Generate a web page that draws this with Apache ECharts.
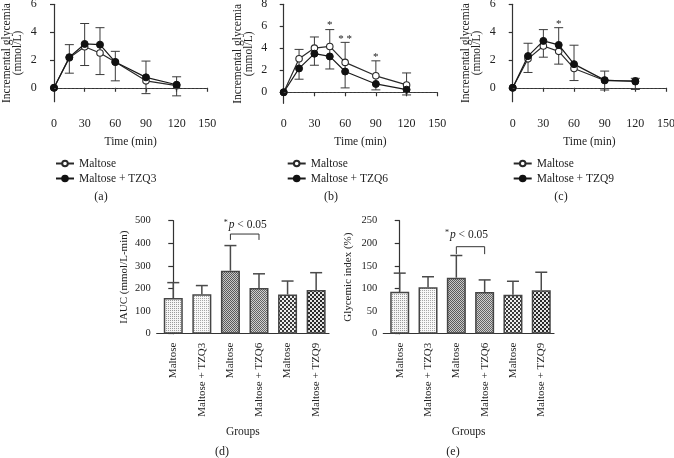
<!DOCTYPE html>
<html><head><meta charset="utf-8">
<script src="https://cdn.jsdelivr.net/npm/echarts@6/dist/echarts.min.js"></script>
<style>html,body{margin:0;padding:0;background:#fff}#c{width:674px;height:458px}</style>
</head><body><div id="c"></div>
<script>
// ---------- data ----------
const timePoints = [0, 15, 30, 45, 60, 90, 120];

const maltoseA = [0, 2.15, 2.95, 2.5, 1.85, 0.5, 0.15];
const tzq3     = [0, 2.2, 3.15, 3.1, 1.85, 0.75, 0.22];
const errLowA  = [null, 1.05, 1.6, 0.95, 0.5, -0.42, -0.58];
const errHighA = [null, 3.1, 4.62, 4.32, 2.62, 1.92, 0.79];

const maltoseB = [0, 3.05, 4.02, 4.17, 2.72, 1.5, 0.67];
const tzq6     = [0, 2.17, 3.51, 3.26, 1.89, 0.76, 0.24];
const errLowB  = [null, 1.19, 2.46, 2.12, 0.4, 0.22, -0.24];
const errHighB = [null, 3.9, 5.03, 5.7, 4.54, 2.86, 1.76];
const starTimesB  = [45, 60, 90];
const starValuesB = [6.1, 4.8, 3.2];
const starTextB   = ['*', '* *', '*'];

const maltoseC = [0, 2.08, 3.0, 2.62, 1.39, 0.52, 0.5];
const tzq9     = [0, 2.28, 3.37, 3.08, 1.7, 0.55, 0.45];
const errLowC  = [null, 1.1, 2.2, 1.7, 0.52, -0.16, -0.12];
const errHighC = [null, 3.2, 4.18, 4.32, 3.06, 1.2, 0.68];
const starTimesC  = [45];
const starValuesC = [4.6];
const starTextC   = ['*'];

const yTicksA = [0, 2, 4, 6];
const yTicksB = [0, 2, 4, 6, 8];
const yTicksC = [0, 2, 4, 6];

const groups = ['Maltose', 'Maltose + TZQ3', 'Maltose', 'Maltose + TZQ6', 'Maltose', 'Maltose + TZQ9'];
const groupIdx = [0, 1, 2, 3, 4, 5];
const iauc       = [158, 175, 279, 202, 173, 193];
const iaucErrTop = [226, 213, 390, 265, 233, 270];
const gi         = [93, 103, 124, 92, 86, 96];
const giErrTop   = [134, 126, 173, 119, 116, 136];

const bracketX  = [2, 2, 3, 3];
const bracketYD = [415, 441, 441, 415];
const bracketYE = [176, 192.5, 192.5, 176];
const pLabelD = [2.52, 481];
const pLabelE = [2.36, 218];

// ---------- styles ----------
const FF = 'Liberation Serif';
const TXT = '#222';
const AX = '#333';

function makePattern(size, bg, fg, cells) {
  const c = document.createElement('canvas');
  c.width = c.height = size;
  const g = c.getContext('2d');
  g.fillStyle = bg; g.fillRect(0, 0, size, size);
  g.fillStyle = fg;
  cells.forEach(([x, y, w, h]) => g.fillRect(x, y, w || 1, h || 1));
  return { image: c, repeat: 'repeat' };
}
const patterns = [
  makePattern(2, '#f4f4f4', '#9a9a9a', [[0, 0]]),
  makePattern(2, '#f8f8f8', '#a8a8a8', [[0, 0]]),
  makePattern(2, '#c8c8c8', '#5a5a5a', [[0, 0], [1, 1]]),
  makePattern(2, '#d0d0d0', '#646464', [[0, 0], [1, 1]]),
  makePattern(4, '#eeeeee', '#3a3a3a', [[0, 0, 2, 2], [2, 2, 2, 2]]),
  makePattern(4, '#e4e4e4', '#2a2a2a', [[0, 0, 2, 2], [2, 2, 2, 2]])
];

const chart = echarts.init(document.getElementById('c'), null, { renderer: 'canvas' });

const lineGrids = [
  { left: 54, top: 4.3, width: 153.3, height: 97.4, xOff: 11.3, yOff: 11.3, max: 6, ticks: yTicksA },
  { left: 283.7, top: 4.3, width: 153.6, height: 99, xOff: 9.7, yOff: 10.4, max: 8, ticks: yTicksB },
  { left: 512.7, top: 4.3, width: 153.3, height: 97.4, xOff: 11.3, yOff: 11, max: 6, ticks: yTicksC }
];
const barGrids = [
  { left: 156.7, top: 220.7, width: 172.3, height: 113 },
  { left: 383.3, top: 220.7, width: 170.7, height: 113 }
];

const grids = [];
const xAxes = [];
const yAxes = [];
lineGrids.forEach((g) => {
  grids.push({ left: g.left, top: g.top, width: g.width, height: g.height, containLabel: false, outerBoundsMode: 'none' });
  xAxes.push({
    type: 'value', gridIndex: grids.length - 1, min: 0, max: 150, interval: 30, offset: g.xOff,
    axisLine: { show: true, lineStyle: { color: AX, width: 1.2 } },
    axisTick: { show: true, length: 4, lineStyle: { color: AX, width: 1.2 } },
    axisLabel: { color: TXT, fontFamily: FF, fontSize: 12, margin: 5 },
    splitLine: { show: false },
    name: 'Time (min)', nameLocation: 'middle', nameGap: 23,
    nameTextStyle: { color: TXT, fontFamily: FF, fontSize: 11.5 }
  });
  yAxes.push({
    type: 'value', gridIndex: grids.length - 1, min: -1, max: g.max, offset: g.yOff,
    axisLine: { show: true, lineStyle: { color: AX, width: 1.2 } },
    axisTick: { show: true, length: 4, customValues: g.ticks, lineStyle: { color: AX, width: 1.2 } },
    axisLabel: { color: TXT, fontFamily: FF, fontSize: 12, margin: 6, customValues: g.ticks },
    splitLine: { show: false },
    name: 'Incremental glycemia\n(mmol/L)', nameLocation: 'middle', nameGap: 19,
    nameTextStyle: { color: TXT, fontFamily: FF, fontSize: 11.5, lineHeight: 11 }
  });
});
const barYMax = [500, 250];
const barYInt = [100, 50];
const barYName = ['IAUC (mmol/L-min)', 'Glycemic index (%)'];
const barNameGap = [27, 30];
barGrids.forEach((g, k) => {
  grids.push({ left: g.left, top: g.top, width: g.width, height: g.height, containLabel: false, outerBoundsMode: 'none' });
  xAxes.push({
    type: 'value', gridIndex: grids.length - 1, min: -0.58, max: 5.45,
    axisLine: { show: true, lineStyle: { color: AX, width: 1.2 } },
    axisTick: { show: false },
    axisLabel: {
      color: TXT, fontFamily: FF, fontSize: 11, rotate: 90, margin: 9,
      customValues: groupIdx, formatter: (v) => groups[Math.round(v)]
    },
    splitLine: { show: false },
    name: 'Groups', nameLocation: 'middle', nameGap: 92,
    nameTextStyle: { color: TXT, fontFamily: FF, fontSize: 11.5 }
  });
  yAxes.push({
    type: 'value', gridIndex: grids.length - 1, min: 0, max: barYMax[k], interval: barYInt[k],
    axisLine: { show: true, lineStyle: { color: AX, width: 1.2 } },
    axisTick: { show: true, length: 5, lineStyle: { color: AX, width: 1.2 } },
    axisLabel: { color: TXT, fontFamily: FF, fontSize: 10.5, margin: 6 },
    splitLine: { show: false },
    name: barYName[k], nameLocation: 'middle', nameGap: barNameGap[k],
    nameTextStyle: { color: TXT, fontFamily: FF, fontSize: 11 }
  });
});

function errLineRender(params, api) {
  const x = api.value(0), lo = api.value(1), hi = api.value(2);
  const a = api.coord([x, lo]), b = api.coord([x, hi]);
  const h = 4.5;
  const st = { stroke: '#3a3a3a', lineWidth: 1 };
  return { type: 'group', children: [
    { type: 'line', shape: { x1: a[0], y1: a[1], x2: b[0], y2: b[1] }, style: st },
    { type: 'line', shape: { x1: a[0] - h, y1: a[1], x2: a[0] + h, y2: a[1] }, style: st },
    { type: 'line', shape: { x1: b[0] - h, y1: b[1], x2: b[0] + h, y2: b[1] }, style: st }
  ] };
}
function errBarRender(params, api) {
  const x = api.value(0), lo = api.value(1), hi = api.value(2);
  const a = api.coord([x, lo]), b = api.coord([x, hi]);
  const h = 6;
  const st = { stroke: '#4a4a4a', lineWidth: 1.5 };
  return { type: 'group', children: [
    { type: 'line', shape: { x1: a[0], y1: a[1], x2: b[0], y2: b[1] }, style: st },
    { type: 'line', shape: { x1: b[0] - h, y1: b[1], x2: b[0] + h, y2: b[1] }, style: st }
  ] };
}
function textRenderer(texts, size) {
  return function (params, api) {
    const p = api.coord([api.value(0), api.value(1)]);
    return { type: 'text', style: { text: texts[params.dataIndex], x: p[0], y: p[1], align: 'center', verticalAlign: 'middle', fill: TXT, font: size + 'px "' + FF + '"' } };
  };
}
function pLabelRender(params, api) {
  const p = api.coord([api.value(0), api.value(1)]);
  return { type: 'text', style: {
    text: '{s|*}{i|p} < 0.05', x: p[0], y: p[1], align: 'center', verticalAlign: 'middle', fill: TXT,
    font: '11.5px "' + FF + '"',
    rich: {
      s: { fontSize: 8, fontFamily: FF, padding: [0, 1, 5, 0], fill: TXT },
      i: { fontStyle: 'italic', fontSize: 11.5, fontFamily: FF, fill: TXT }
    }
  } };
}

const series = [];
const panels = [
  { m: maltoseA, t: tzq3, lo: errLowA, hi: errHighA, name: 'Maltose + TZQ3' },
  { m: maltoseB, t: tzq6, lo: errLowB, hi: errHighB, name: 'Maltose + TZQ6', st: starTimesB, sv: starValuesB, stx: starTextB },
  { m: maltoseC, t: tzq9, lo: errLowC, hi: errHighC, name: 'Maltose + TZQ9', st: starTimesC, sv: starValuesC, stx: starTextC }
];
panels.forEach((p, k) => {
  series.push({
    type: 'custom', xAxisIndex: k, yAxisIndex: k, z: 1, silent: true, clip: false,
    renderItem: errLineRender, encode: { x: 0, y: [1, 2] },
    data: timePoints.map((t, i) => [t, p.lo[i], p.hi[i]]).filter(d => d[1] != null)
  });
  series.push({
    type: 'line', name: 'Maltose', xAxisIndex: k, yAxisIndex: k, z: 3,
    data: timePoints.map((t, i) => [t, p.m[i]]),
    symbol: 'circle', symbolSize: 6.5, showAllSymbol: true,
    lineStyle: { color: '#2a2a2a', width: 1.2 },
    itemStyle: { color: '#ffffff', borderColor: '#2a2a2a', borderWidth: 1.1 },
    markLine: { silent: true, symbol: 'none', label: { show: false }, animation: false,
      lineStyle: { type: [2, 2], color: '#444', width: 1 }, data: [{ yAxis: 0 }] }
  });
  series.push({
    type: 'line', name: p.name, xAxisIndex: k, yAxisIndex: k, z: 4,
    data: timePoints.map((t, i) => [t, p.t[i]]),
    symbol: 'circle', symbolSize: 7, showAllSymbol: true,
    lineStyle: { color: '#1a1a1a', width: 1.2 },
    itemStyle: { color: '#111111', borderColor: '#111111', borderWidth: 1 }
  });
  if (p.st) {
    series.push({
      type: 'custom', xAxisIndex: k, yAxisIndex: k, z: 5, silent: true, clip: false,
      renderItem: textRenderer(p.stx, 11), encode: { x: 0, y: 1 },
      data: p.st.map((t, i) => [t, p.sv[i]])
    });
  }
});

const barSets = [
  { v: iauc, e: iaucErrTop, by: bracketYD, pl: pLabelD },
  { v: gi, e: giErrTop, by: bracketYE, pl: pLabelE }
];
barSets.forEach((b, j) => {
  const ax = 3 + j;
  series.push({
    type: 'bar', xAxisIndex: ax, yAxisIndex: ax, barWidth: 19, z: 2, silent: true,
    data: b.v.map((v, i) => ({ value: [groupIdx[i], v], itemStyle: { color: patterns[i] } })),
    itemStyle: { borderColor: '#454545', borderWidth: 1.5 }
  });
  series.push({
    type: 'custom', xAxisIndex: ax, yAxisIndex: ax, z: 3, silent: true, clip: false,
    renderItem: errBarRender, encode: { x: 0, y: [1, 2] },
    data: b.v.map((v, i) => [groupIdx[i], v, b.e[i]])
  });
  series.push({
    type: 'line', xAxisIndex: ax, yAxisIndex: ax, z: 3, silent: true, symbol: 'none',
    lineStyle: { color: '#333', width: 1 },
    data: bracketX.map((x, i) => [x, b.by[i]])
  });
  series.push({
    type: 'custom', xAxisIndex: ax, yAxisIndex: ax, z: 5, silent: true, clip: false,
    renderItem: pLabelRender, encode: { x: 0, y: 1 },
    data: [b.pl]
  });
});

const legendBase = {
  orient: 'vertical', itemWidth: 18, itemHeight: 7, itemGap: 3, selectedMode: false,
  textStyle: { color: TXT, fontFamily: FF, fontSize: 11.5 }, padding: 0
};
const legends = [
  Object.assign({}, legendBase, { left: 55, top: 157.5, data: ['Maltose', 'Maltose + TZQ3'] }),
  Object.assign({}, legendBase, { left: 286.7, top: 157.5, data: ['Maltose', 'Maltose + TZQ6'] }),
  Object.assign({}, legendBase, { left: 512.7, top: 157.5, data: ['Maltose', 'Maltose + TZQ9'] })
];

const captions = [['(a)', 101, 197], ['(b)', 331, 197], ['(c)', 561, 197], ['(d)', 222, 451.5], ['(e)', 453, 451.5]];

chart.setOption({
  animation: false,
  backgroundColor: '#ffffff',
  grid: grids,
  xAxis: xAxes,
  yAxis: yAxes,
  legend: legends,
  series: series,
  graphic: captions.map(c => ({
    type: 'text', x: c[1], y: c[2],
    style: { text: c[0], align: 'center', verticalAlign: 'middle', fill: TXT, font: '12px "' + FF + '"' }
  }))
});
</script>
</body></html>
